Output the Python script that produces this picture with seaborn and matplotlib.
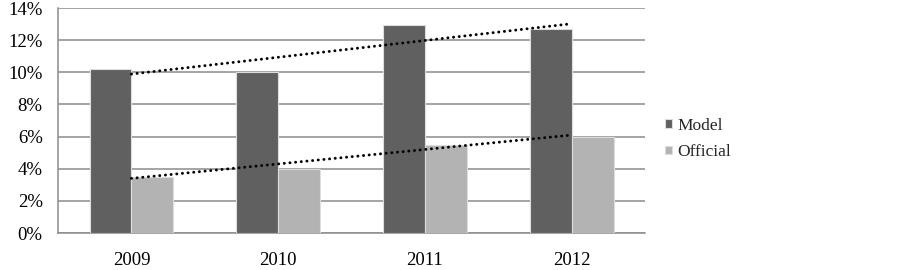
import numpy as np
import pandas as pd
import matplotlib
matplotlib.use("Agg")
import matplotlib.pyplot as plt
import seaborn as sns

# chart values (percent)
years = ["2009", "2010", "2011", "2012"]
model = [10.2, 10.0, 12.95, 12.7]
official = [3.5, 4.0, 5.5, 6.0]
series_names = ["Model", "Official"]
yticks = [0, 2, 4, 6, 8, 10, 12, 14]

sns.set_style("white")
plt.rcParams['font.family'] = ['Liberation Serif', 'DejaVu Serif']

df = pd.DataFrame({
    "year": years * 2,
    "value": model + official,
    "series": [series_names[0]] * len(years) + [series_names[1]] * len(years),
})

fig = plt.figure(figsize=(9.02, 2.70), dpi=100)
ax = fig.add_axes([0.0643, 0.137, 0.651, 0.833])

palette = {"Model": "#606060", "Official": "#b3b3b3"}
sns.barplot(data=df, x="year", y="value", hue="series", palette=palette,
            width=0.57, edgecolor="#dddddd", linewidth=0.8, saturation=1,
            ax=ax, zorder=3, legend=True)

# linear trendlines over category positions
xs = np.arange(len(years))
for vals in (model, official):
    k, b = np.polyfit(xs, vals, 1)
    ax.plot(xs, k * xs + b, color="black", linewidth=2.1,
            linestyle=(0, (0.05, 1.9)), dash_capstyle="round", zorder=4)

ax.set_ylim(0, 14)
ax.set_xlim(-0.5, len(years) - 0.5)
ax.set_yticks(yticks)
ax.set_yticklabels([f"{t}%" for t in yticks])
ax.yaxis.grid(True, color="#8c8c8c", linewidth=1.1, zorder=0)
ax.set_axisbelow(True)
ax.set_xlabel("")
ax.set_ylabel("")
ax.tick_params(axis="both", labelsize=13.5, length=0, colors="black")
ax.tick_params(axis="x", pad=14)
ax.tick_params(axis="y", pad=11)
for side in ["top", "right"]:
    ax.spines[side].set_visible(False)
for side in ["left", "bottom"]:
    ax.spines[side].set_color("#8c8c8c")
    ax.spines[side].set_linewidth(1.1)

handles, labels = ax.get_legend_handles_labels()
ax.legend(handles, labels, loc="center left", bbox_to_anchor=(0.72, 0.485),
          bbox_transform=fig.transFigure, frameon=False, fontsize=12.5,
          handlelength=0.4, handleheight=0.4, handletextpad=0.3,
          labelspacing=0.6)

fig.savefig("out.png", dpi=100)
